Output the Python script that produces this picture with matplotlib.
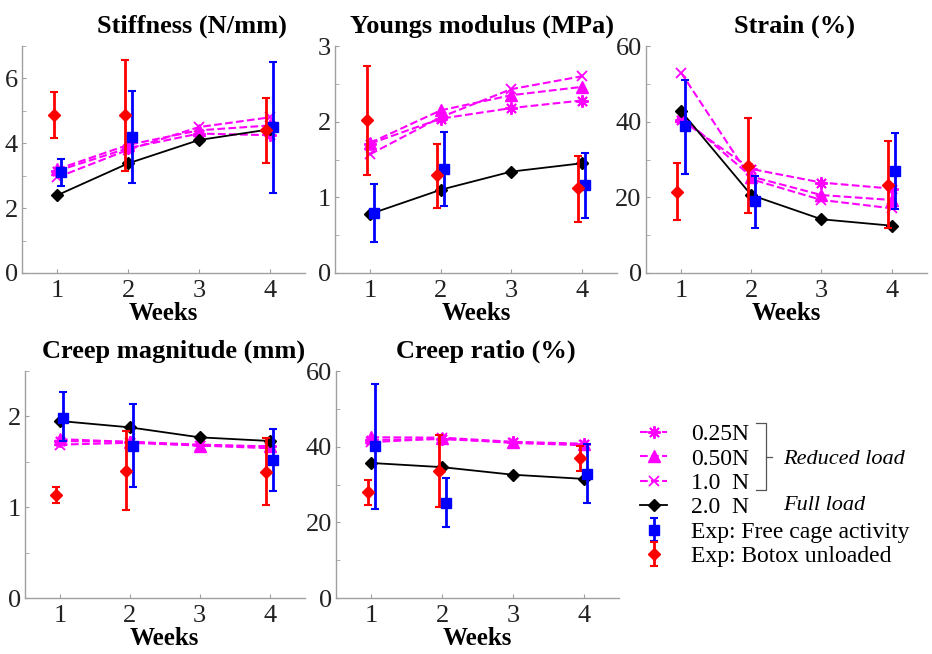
import numpy as np
import matplotlib.pyplot as plt
from matplotlib.lines import Line2D

plt.rcParams['font.family'] = ['Liberation Serif', 'DejaVu Serif']

weeks = [1, 2, 3, 4]
exp_weeks = [1, 2, 4]

# model curves (0.25N, 0.50N, 1.0N reduced load; 2.0N full load)
stiff_025 = [3.15, 3.85, 4.30, 4.25]
stiff_050 = [3.20, 3.95, 4.40, 4.55]
stiff_100 = [2.95, 3.80, 4.50, 4.80]
stiff_200 = [2.40, 3.38, 4.10, 4.43]
stiff_free = [3.10, 4.20, 4.50]
stiff_free_lo = [2.68, 2.77, 2.48]
stiff_free_hi = [3.52, 5.62, 6.50]
stiff_botox = [4.88, 4.87, 4.40]
stiff_botox_lo = [4.17, 3.15, 3.40]
stiff_botox_hi = [5.59, 6.58, 5.40]

young_025 = [1.71, 2.04, 2.18, 2.28]
young_050 = [1.72, 2.15, 2.35, 2.46]
young_100 = [1.57, 2.06, 2.43, 2.60]
young_200 = [0.78, 1.10, 1.34, 1.45]
young_free = [0.79, 1.38, 1.16]
young_free_lo = [0.41, 0.89, 0.73]
young_free_hi = [1.18, 1.87, 1.58]
young_botox = [2.02, 1.29, 1.12]
young_botox_lo = [1.29, 0.86, 0.68]
young_botox_hi = [2.73, 1.71, 1.55]

strain_025 = [40.5, 27.5, 23.9, 22.3]
strain_050 = [41.5, 25.5, 20.6, 19.3]
strain_100 = [53.0, 24.8, 19.3, 17.1]
strain_200 = [42.8, 20.6, 14.2, 12.5]
strain_free = [38.8, 18.9, 26.9]
strain_free_lo = [26.3, 12.0, 16.9]
strain_free_hi = [50.9, 25.6, 37.0]
strain_botox = [21.5, 28.2, 23.2]
strain_botox_lo = [14.0, 15.8, 11.8]
strain_botox_hi = [29.1, 40.9, 34.9]

cmag_025 = [1.73, 1.72, 1.69, 1.67]
cmag_050 = [1.75, 1.72, 1.68, 1.67]
cmag_100 = [1.69, 1.71, 1.68, 1.65]
cmag_200 = [1.95, 1.88, 1.77, 1.73]
cmag_free = [1.98, 1.67, 1.52]
cmag_free_lo = [1.73, 1.22, 1.18]
cmag_free_hi = [2.27, 2.14, 1.86]
cmag_botox = [1.13, 1.40, 1.39]
cmag_botox_lo = [1.05, 0.965, 1.02]
cmag_botox_hi = [1.22, 1.84, 1.76]

cratio_025 = [41.8, 42.0, 41.2, 40.6]
cratio_050 = [42.5, 42.4, 41.3, 40.8]
cratio_100 = [41.2, 42.2, 41.0, 40.4]
cratio_200 = [35.7, 34.6, 32.6, 31.5]
cratio_free = [40.2, 25.2, 32.9]
cratio_free_lo = [23.6, 18.8, 25.1]
cratio_free_hi = [56.5, 31.7, 40.6]
cratio_botox = [28.0, 33.6, 36.9]
cratio_botox_lo = [24.7, 24.1, 33.5]
cratio_botox_hi = [31.1, 43.0, 40.2]

MAG = '#ff00ff'
BLUE = '#0000ff'
RED = '#ff0000'
SPINE = '#a0a0a0'

fig = plt.figure(figsize=(9.32, 6.54), dpi=100)


def panel(rect, title, tx, m025, m050, m100, m200,
          free, free_lo, free_hi, bot, bot_lo, bot_hi, ymax, major, minor):
    ax = fig.add_axes(rect)
    # asterisk marker like matlab '*'
    l1, = ax.plot(weeks, m025, '--', color=MAG, marker=(8, 2, 0), ms=9, mew=1.4, lw=1.5)
    l2, = ax.plot(weeks, m050, '--', color=MAG, marker='^', ms=8, lw=1.5)
    l3, = ax.plot(weeks, m100, '--', color=MAG, marker='x', ms=7, mew=1.3, lw=1.5)
    l4, = ax.plot(weeks, m200, '-', color='black', marker='D', ms=6.5, lw=1.3)
    f = np.array(free)
    e1 = ax.errorbar(np.array(exp_weeks) + 0.05, f,
                     yerr=[f - np.array(free_lo), np.array(free_hi) - f],
                     fmt='s', color=BLUE, ms=7, elinewidth=2, capsize=3, capthick=1.5)
    b = np.array(bot)
    e2 = ax.errorbar(np.array(exp_weeks) - 0.05, b,
                     yerr=[b - np.array(bot_lo), np.array(bot_hi) - b],
                     fmt='D', color=RED, ms=6.5, elinewidth=2, capsize=3, capthick=1.5)
    ax.set_xlim(0.5, 4.5)
    ax.set_ylim(0, ymax)
    ax.set_xticks(weeks)
    ax.set_yticks(np.arange(0, ymax + 1e-9, major))
    ax.set_yticks(np.arange(0, ymax + 1e-9, minor), minor=True)
    ax.yaxis.set_major_formatter(plt.FuncFormatter(lambda v, p: '%g' % v))
    for s in ['top', 'right']:
        ax.spines[s].set_visible(False)
    for s in ['left', 'bottom']:
        ax.spines[s].set_color(SPINE)
        ax.spines[s].set_linewidth(1.0)
    ax.tick_params(which='both', direction='in', length=3, color=SPINE,
                   labelsize=19, labelcolor='#222222')
    ax.tick_params(axis='x', pad=5)
    ax.tick_params(axis='y', pad=3)
    ax.set_title(title, fontsize=19, fontweight='bold', x=tx, pad=10)
    ax.set_xlabel('Weeks', fontsize=18, fontweight='bold', labelpad=0)
    return [l1, l2, l3, l4, e1, e2]


handles = panel([0.0236, 0.5826, 0.3036, 0.347], 'Stiffness (N/mm)', 0.6,
                stiff_025, stiff_050, stiff_100, stiff_200,
                stiff_free, stiff_free_lo, stiff_free_hi,
                stiff_botox, stiff_botox_lo, stiff_botox_hi, 7, 2, 1)
panel([0.3594, 0.5826, 0.3026, 0.347], 'Youngs modulus (MPa)', 0.52,
      young_025, young_050, young_100, young_200,
      young_free, young_free_lo, young_free_hi,
      young_botox, young_botox_lo, young_botox_hi, 3, 1, 0.5)
panel([0.693, 0.5826, 0.3015, 0.347], 'Strain (%)', 0.53,
      strain_025, strain_050, strain_100, strain_200,
      strain_free, strain_free_lo, strain_free_hi,
      strain_botox, strain_botox_lo, strain_botox_hi, 60, 20, 10)
panel([0.0268, 0.0856, 0.30, 0.347], 'Creep magnitude (mm)', 0.53,
      cmag_025, cmag_050, cmag_100, cmag_200,
      cmag_free, cmag_free_lo, cmag_free_hi,
      cmag_botox, cmag_botox_lo, cmag_botox_hi, 2.5, 1, 0.5)
panel([0.3605, 0.0856, 0.3036, 0.347], 'Creep ratio (%)', 0.53,
      cratio_025, cratio_050, cratio_100, cratio_200,
      cratio_free, cratio_free_lo, cratio_free_hi,
      cratio_botox, cratio_botox_lo, cratio_botox_hi, 60, 20, 10)

labels = ['0.25N', '0.50N', '1.0  N', '2.0  N',
          'Exp: Free cage activity', 'Exp: Botox unloaded']
fig.legend(handles, labels, loc='upper left', bbox_to_anchor=(0.687, 0.352),
           frameon=False, fontsize=17, handlelength=1.15, handletextpad=1.0,
           labelspacing=0.12, borderpad=0, borderaxespad=0)

# bracket for reduced load
W, H = 932.0, 654.0
bx, by0, by1 = 766, 423, 490
fig.add_artist(Line2D([756 / W, bx / W, bx / W, 756 / W],
                      [1 - by0 / H, 1 - by0 / H, 1 - by1 / H, 1 - by1 / H],
                      color='#555555', lw=0.9))
fig.add_artist(Line2D([bx / W, 772 / W], [1 - 457 / H, 1 - 457 / H],
                      color='#555555', lw=0.9))
fig.text(783 / W, 1 - 459 / H, 'Reduced load', fontsize=16, style='italic',
         va='center', ha='left')
fig.text(783 / W, 1 - 505 / H, 'Full load', fontsize=16, style='italic',
         va='center', ha='left')

fig.savefig('out.png', dpi=100)
